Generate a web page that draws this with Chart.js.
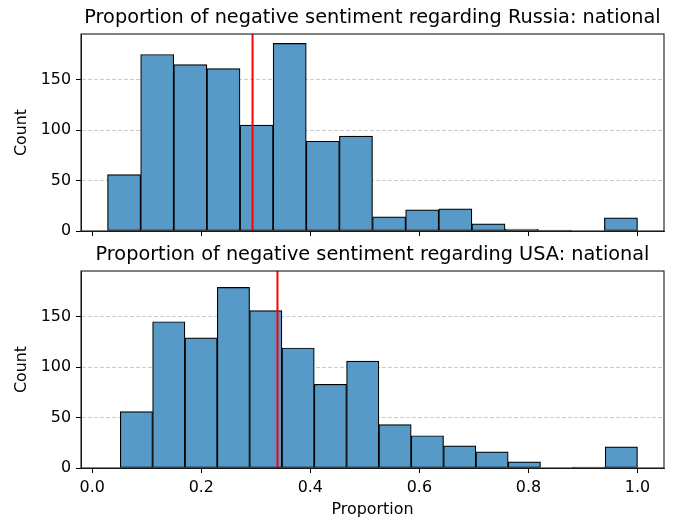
<!DOCTYPE html>
<html>
<head>
<meta charset="utf-8">
<script src="https://cdn.jsdelivr.net/npm/chart.js@4.4.1/dist/chart.umd.min.js"></script>
<style>
  html, body { margin: 0; padding: 0; background: #fff; }
  body { width: 675px; height: 521px; position: relative; overflow: hidden; }
  .box { position: absolute; left: 0; width: 675px; }
  #b1 { top: 0px; height: 255px; }
  #b2 { top: 237px; height: 284px; }
</style>
</head>
<body>
<div class="box" id="b1"><canvas id="c1"></canvas></div>
<div class="box" id="b2"><canvas id="c2"></canvas></div>
<script>
// ---- data ----
const russiaTitle = "Proportion of negative sentiment regarding Russia: national";
const usaTitle = "Proportion of negative sentiment regarding USA: national";
const russiaEdges = [0.028, 0.0888, 0.1495, 0.2103, 0.2710, 0.3318, 0.3925, 0.4533, 0.5140, 0.5748, 0.6355, 0.6963, 0.7570, 0.8178, 0.8785, 0.9393, 1.0];
const russiaCounts = [56, 175, 165, 161, 105, 186, 89, 94, 14, 21, 22, 7, 2, 1, 0, 13];
const usaEdges = [0.0514, 0.1107, 0.1700, 0.2293, 0.2886, 0.3479, 0.4072, 0.4664, 0.5257, 0.5850, 0.6443, 0.7036, 0.7629, 0.8221, 0.8814, 0.9407, 1.0];
const usaCounts = [56, 145, 129, 179, 156, 119, 83, 106, 43, 32, 22, 16, 6, 0, 1, 21];
const russiaMean = 0.294;
const usaMean = 0.3397;
const xTicks = [0.0, 0.2, 0.4, 0.6, 0.8, 1.0];
const yTicks = [0, 50, 100, 150];
const xLimits = [-0.0206, 1.0486];
const xLabel = "Proportion";
const yLabel = "Count";

const yMax = Math.max(...russiaCounts, ...usaCounts) * 1.05;

Chart.defaults.font.family = "'DejaVu Sans', sans-serif";
Chart.defaults.color = '#000';

const FONT_TICK = 15.9;
const FONT_TITLE = 19.3;

const meanLine = {
  id: 'meanLine',
  afterDatasetsDraw(chart, args, opts) {
    const {ctx, chartArea} = chart;
    const x = chart.scales.x.getPixelForValue(opts.value);
    ctx.save();
    ctx.strokeStyle = '#ff0000';
    ctx.lineWidth = 2;
    ctx.beginPath();
    ctx.moveTo(x, chartArea.top);
    ctx.lineTo(x, chartArea.bottom);
    ctx.stroke();
    ctx.restore();
  }
};

const frame = {
  id: 'frame',
  afterDraw(chart) {
    const {ctx, chartArea} = chart;
    ctx.save();
    ctx.strokeStyle = '#1a1a1a';
    ctx.lineWidth = 1.1;
    ctx.strokeRect(chartArea.left, chartArea.top, chartArea.right - chartArea.left, chartArea.bottom - chartArea.top);
    ctx.restore();
  }
};

function makeChart(canvasId, title, edges, counts, mean, showXLabels, xScaleHeight, padTop, padBottom) {
  const pts = counts.map((c, i) => ({ x: (edges[i] + edges[i + 1]) / 2, y: c }));
  return new Chart(document.getElementById(canvasId), {
    type: 'bar',
    data: {
      datasets: [{
        data: pts,
        backgroundColor: 'rgb(87,153,199)',
        borderColor: '#000',
        borderWidth: 1.2,
        borderSkipped: false,
        barPercentage: 1.0,
        categoryPercentage: 1.0
      }]
    },
    options: {
      responsive: true,
      maintainAspectRatio: false,
      animation: false,
      layout: { padding: { left: 0, right: 11, top: 0, bottom: 0 } },
      plugins: {
        legend: { display: false },
        tooltip: { enabled: false },
        title: {
          display: true,
          fullSize: false,
          text: title,
          color: '#000',
          font: { size: FONT_TITLE, weight: 'normal' },
          padding: { top: padTop, bottom: padBottom }
        },
        meanLine: { value: mean }
      },
      scales: {
        x: {
          type: 'linear',
          offset: false,
          min: xLimits[0],
          max: xLimits[1],
          afterBuildTicks: (s) => { s.ticks = xTicks.map(v => ({ value: v })); },
          afterFit: (s) => { s.height = xScaleHeight; },
          ticks: {
            display: showXLabels,
            padding: 5,
            maxRotation: 0,
            autoSkip: false,
            font: { size: FONT_TICK },
            callback: (v) => v.toFixed(1)
          },
          grid: {
            offset: false,
            drawOnChartArea: false,
            drawTicks: true,
            tickLength: 5,
            tickColor: '#000',
            tickWidth: 1
          },
          border: { display: true, color: '#1a1a1a', width: 1 },
          title: {
            display: showXLabels,
            text: xLabel,
            color: '#000',
            font: { size: FONT_TICK },
            padding: { top: 0, bottom: 1.7 }
          }
        },
        y: {
          min: 0,
          max: yMax,
          afterBuildTicks: (s) => { s.ticks = yTicks.map(v => ({ value: v })); },
          afterFit: (s) => { s.width = 81; },
          ticks: {
            padding: 5,
            font: { size: FONT_TICK }
          },
          grid: {
            color: 'rgba(170,170,170,0.6)',
            lineWidth: 1,
            tickLength: 5,
            tickColor: '#000',
            tickWidth: 1,
            tickBorderDash: []
          },
          border: { display: true, color: '#1a1a1a', width: 1, dash: [4, 2] },
          title: {
            display: true,
            text: yLabel,
            color: '#000',
            font: { size: FONT_TICK },
            padding: { top: 12.5, bottom: 0 }
          }
        }
      }
    },
    plugins: [meanLine, frame]
  });
}

makeChart('c1', russiaTitle, russiaEdges, russiaCounts, russiaMean, false, 24, 6.7, 4.15);
makeChart('c2', usaTitle, usaEdges, usaCounts, usaMean, true, 53, 6.4, 4.45);
</script>
</body>
</html>
